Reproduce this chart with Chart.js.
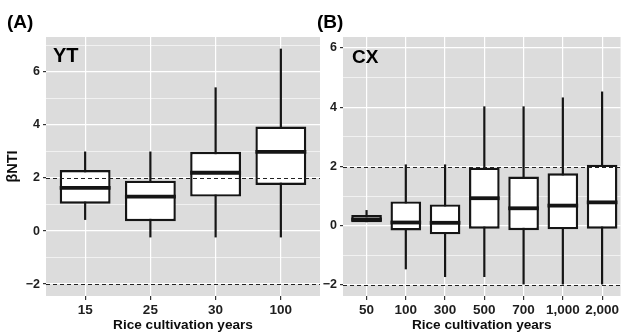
<!DOCTYPE html>
<html>
<head>
<meta charset="utf-8">
<script src="https://cdn.jsdelivr.net/npm/chart.js@4.4.1/dist/chart.umd.min.js"></script>
<style>
  body { margin: 0; background: #fff; width: 621px; height: 335px; position: relative; overflow: hidden; }
  #ca { position: absolute; left: 0; top: 0; }
  #cb { position: absolute; left: 312px; top: 0; }
</style>
</head>
<body>
<canvas id="ca" width="320" height="335"></canvas>
<canvas id="cb" width="309" height="335"></canvas>
<script>
// panel A - YT
const yearsA = ['15', '25', '30', '100'];
const minA = [0.42, -0.24, -0.24, -0.24];
const q1A = [1.03, 0.37, 1.30, 1.74];
const medA = [1.63, 1.30, 2.20, 2.99];
const q3A = [2.30, 1.90, 2.99, 3.94];
const maxA = [3.00, 3.00, 5.42, 6.88];

// panel B - CX
const yearsB = ['50', '100', '300', '500', '700', '1,000', '2,000'];
const minB = [0.12, -1.47, -1.73, -1.73, -1.98, -1.98, -1.98];
const q1B = [0.12, -0.16, -0.29, -0.10, -0.15, -0.12, -0.10];
const medB = [0.21, 0.11, 0.10, 0.93, 0.59, 0.68, 0.79];
const q3B = [0.36, 0.82, 0.72, 1.96, 1.66, 1.77, 2.06];
const maxB = [0.53, 2.07, 2.07, 4.03, 4.03, 4.33, 4.53];

const yTicksA = [-2, -1, 0, 1, 2, 3, 4, 5, 6, 7];
const yTicksB = [-2, -1, 0, 1, 2, 3, 4, 5, 6];
const yLabels = [-2, 0, 2, 4, 6];
const refLines = [-2, 2];

const FONT = "'Liberation Sans', Arial, Helvetica, sans-serif";
const INK = '#151515';

// background, whiskers, medians, reference lines, panel text
const boxExtras = {
  id: 'boxExtras',
  beforeDraw(chart) {
    const a = chart.chartArea, ctx = chart.ctx;
    ctx.save();
    ctx.fillStyle = '#dcdcdc';
    ctx.fillRect(a.left, a.top, a.right - a.left, a.bottom - a.top);
    ctx.restore();
  },
  beforeDatasetsDraw(chart, args, o) {
    const x = chart.scales.x, y = chart.scales.y, ctx = chart.ctx;
    ctx.save();
    ctx.strokeStyle = INK;
    ctx.lineWidth = 2.2;
    o.min.forEach((v, i) => {
      const px = x.getPixelForValue(i + 1);
      ctx.beginPath();
      ctx.moveTo(px, y.getPixelForValue(v));
      ctx.lineTo(px, y.getPixelForValue(o.max[i]));
      ctx.stroke();
    });
    ctx.restore();
  },
  afterDatasetsDraw(chart, args, o) {
    const y = chart.scales.y, ctx = chart.ctx;
    const a = chart.chartArea;
    const meta = chart.getDatasetMeta(0);
    ctx.save();
    ctx.strokeStyle = INK;
    ctx.lineWidth = 3.8;
    o.med.forEach((v, i) => {
      const bar = meta.data[i];
      const py = y.getPixelForValue(v);
      ctx.beginPath();
      ctx.moveTo(bar.x - bar.width / 2, py);
      ctx.lineTo(bar.x + bar.width / 2, py);
      ctx.stroke();
    });
    ctx.strokeStyle = '#222';
    ctx.lineWidth = 1;
    ctx.setLineDash([4, 3]);
    refLines.forEach(v => {
      const py = Math.round(y.getPixelForValue(v)) + 0.5;
      ctx.beginPath();
      ctx.moveTo(a.left, py);
      ctx.lineTo(a.right, py);
      ctx.stroke();
    });
    ctx.setLineDash([]);
    ctx.fillStyle = '#000';
    ctx.textBaseline = 'alphabetic';
    ctx.font = 'bold ' + o.tagSize + 'px ' + FONT;
    ctx.fillText(o.tag, o.tagX, o.tagY);
    ctx.font = 'bold 19px ' + FONT;
    ctx.fillText(o.letter, o.letterX, 28);
    ctx.restore();
  }
};

function makeChart(id, years, q1, q3, extras, yMin, yMax, yTicks, xMax, axisWidth, yTitle) {
  return new Chart(document.getElementById(id), {
    type: 'bar',
    data: {
      datasets: [{
        data: q1.map((v, i) => ({ x: i + 1, y: [v, q3[i]] })),
        backgroundColor: '#ffffff',
        borderColor: INK,
        borderWidth: 2.4,
        borderSkipped: false,
        categoryPercentage: 1,
        barPercentage: 0.78
      }]
    },
    options: {
      responsive: false,
      animation: false,
      layout: { padding: { top: 37, left: 0, right: 0, bottom: 0 } },
      plugins: {
        legend: { display: false },
        tooltip: { enabled: false },
        boxExtras: extras
      },
      scales: {
        x: {
          type: 'linear',
          min: 0.4,
          max: xMax,
          offset: false,
          afterBuildTicks: s => { s.ticks = years.map((_, i) => ({ value: i + 1 })); },
          afterFit: s => { s.height = 39; },
          ticks: {
            callback: (v, i) => years[i],
            autoSkip: false,
            maxRotation: 0,
            padding: 2,
            color: '#1e1e1e',
            font: { family: FONT, size: 13.5, weight: 'bold' }
          },
          grid: { offset: false, color: '#ffffff', lineWidth: 1.2, tickColor: '#333', tickLength: 4 },
          border: { display: false },
          title: {
            display: true,
            text: 'Rice cultivation years',
            color: '#0d0d0d',
            padding: { top: 0, bottom: 2 },
            font: { family: FONT, size: 13.6, weight: 'bold' }
          }
        },
        y: {
          min: yMin,
          max: yMax,
          afterBuildTicks: s => { s.ticks = yTicks.map(v => ({ value: v })); },
          afterFit: s => { s.width = axisWidth; },
          ticks: {
            callback: v => yLabels.includes(v) ? String(v).replace('-', '\u2212') : '',
            autoSkip: false,
            padding: 3,
            color: '#1e1e1e',
            font: { family: FONT, size: 12.5, weight: 'bold' }
          },
          grid: {
            color: '#ffffff',
            lineWidth: c => yLabels.includes(c.tick.value) ? 1.2 : 0.6,
            tickColor: c => yLabels.includes(c.tick.value) ? '#333' : 'rgba(0,0,0,0)',
            tickLength: 3
          },
          border: { display: false },
          title: {
            display: !!yTitle,
            text: yTitle || '',
            color: '#0d0d0d',
            padding: { top: 4, bottom: 0 },
            font: { family: FONT, size: 14.5, weight: 'bold' }
          }
        }
      }
    },
    plugins: [boxExtras]
  });
}

makeChart('ca', yearsA, q1A, q3A,
  { min: minA, med: medA, max: maxA, tag: 'YT', tagSize: 20, tagX: 53, tagY: 62, letter: '(A)', letterX: 7 },
  -2.45, 7.32, yTicksA, 4.6, 46, '\u03b2NTI');

makeChart('cb', yearsB, q1B, q3B,
  { min: minB, med: medB, max: maxB, tag: 'CX', tagSize: 19, tagX: 40, tagY: 63, letter: '(B)', letterX: 5 },
  -2.37, 6.37, yTicksB, 7.47, 31, null);
</script>
</body>
</html>
